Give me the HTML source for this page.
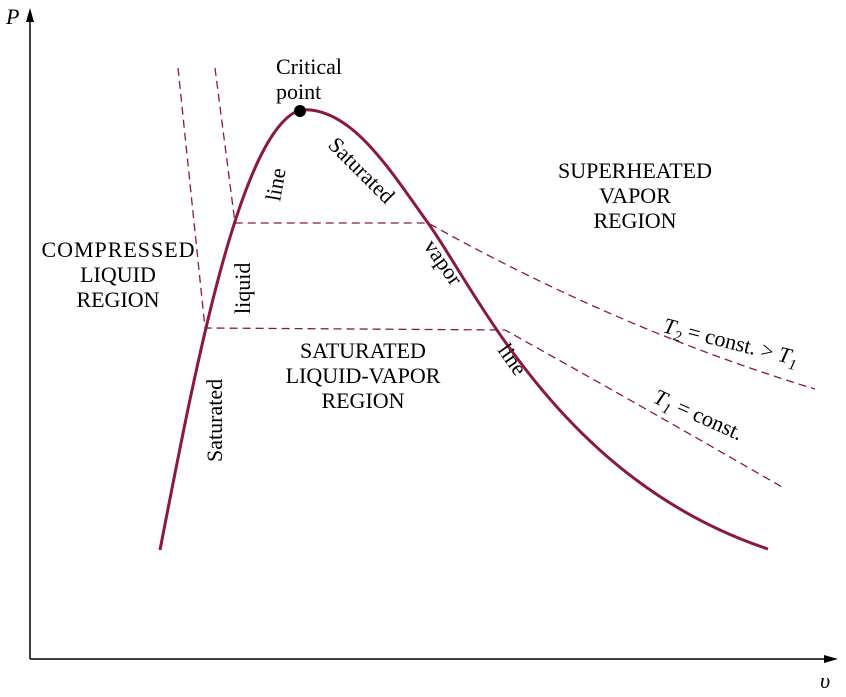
<!DOCTYPE html>
<html><head><style>body{margin:0;background:#fff}svg{display:block}text{font-family:"Liberation Serif",serif;font-size:22px;fill:#000}</style></head>
<body>
<svg width="846" height="697" viewBox="0 0 846 697">
<g stroke="#000" stroke-width="1.5" fill="none">
<line x1="30" y1="659" x2="30" y2="18"/><line x1="30" y1="659" x2="828" y2="659"/>
</g>
<polygon points="30,8 26,22 34,22" fill="#000"/>
<polygon points="838,659 824,655 824,663" fill="#000"/>
<text x="6" y="24" font-style="italic">P</text>
<text x="820" y="688" font-style="italic">υ</text>
<g stroke="#8b1a3a" stroke-width="1.3" fill="none" stroke-dasharray="8,5">
<path d="M178,68 L205,328 L505,330 Q640,405 782,487"/>
<path d="M215,68 L235,223 L428,223 Q620,330 815,389"/>
</g>
<path d="M160,550 C195,370 240,130 300,110 C350,105 390,170 428,223 C475,288 560,480 768,549" stroke="#8b1a3a" stroke-width="3" fill="none"/>
<circle cx="300" cy="111" r="6" fill="#000"/>
<text x="276" y="74">Critical</text><text x="276" y="99">point</text>
<g text-anchor="middle">
<text x="118" y="257" textLength="153">COMPRESSED</text><text x="118" y="282">LIQUID</text><text x="118" y="307">REGION</text>
<text x="635" y="178">SUPERHEATED</text><text x="635" y="203">VAPOR</text><text x="635" y="228">REGION</text>
<text x="363" y="358">SATURATED</text><text x="363" y="383">LIQUID-VAPOR</text><text x="363" y="408">REGION</text>
</g>
<text transform="translate(222,462) rotate(-90)">Saturated</text>
<text transform="translate(250,314) rotate(-90)">liquid</text>
<text transform="translate(280,202) rotate(-80)">line</text>
<text transform="translate(327,146) rotate(45)">Saturated</text>
<text transform="translate(423,246) rotate(55)">vapor</text>
<text transform="translate(497,350) rotate(55)">line</text>
<text transform="translate(662,332) rotate(14)" font-style="italic">T<tspan font-size="15" dy="5">2</tspan><tspan dy="-5" font-style="normal"> = const. &gt; </tspan>T<tspan font-size="15" dy="5">1</tspan></text>
<text transform="translate(652,402) rotate(24)" font-style="italic">T<tspan font-size="15" dy="5">1</tspan><tspan dy="-5" font-style="normal"> = const.</tspan></text>
</svg>
</body></html>
